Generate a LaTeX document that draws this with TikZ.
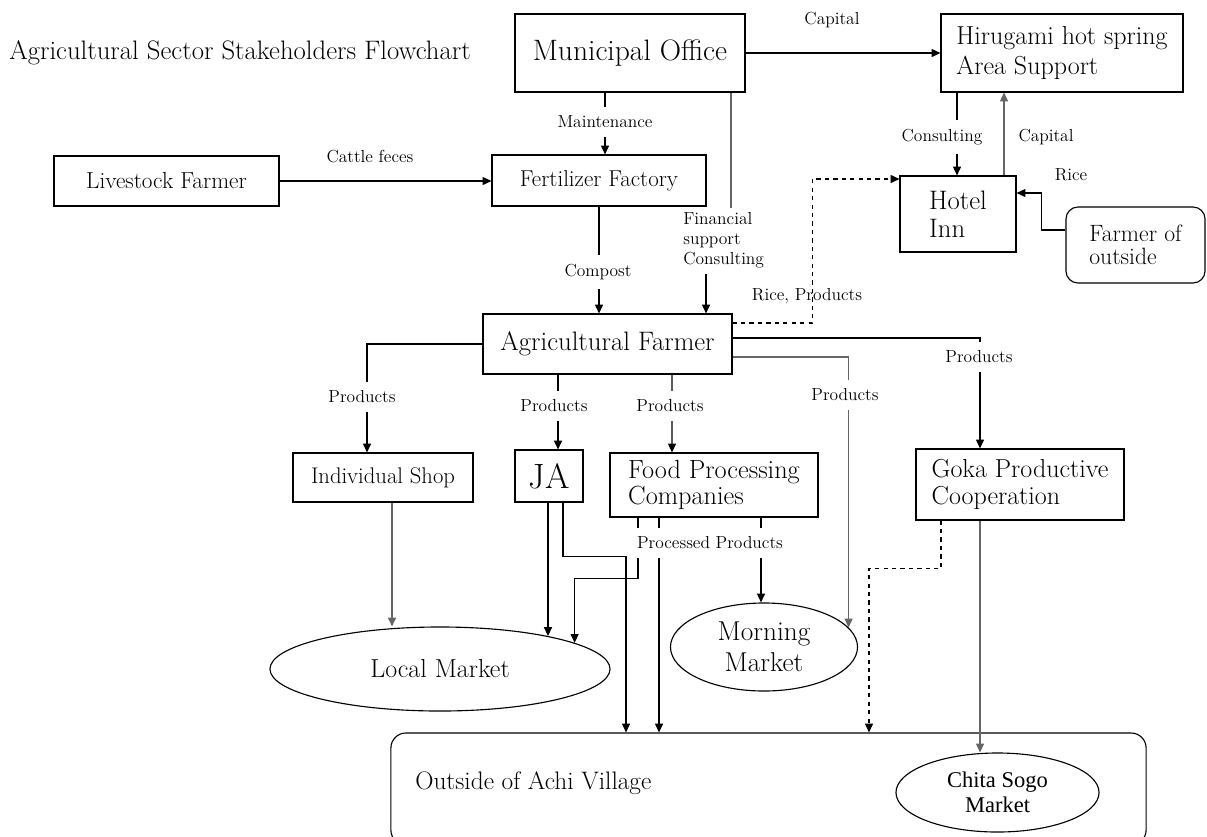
\documentclass[tikz,border=0pt]{standalone}
\usepackage{fontspec}
\newfontfamily\timesfont{Liberation Serif}
\usetikzlibrary{shapes.geometric,arrows.meta,calc}

\tikzset{
  box/.style={draw, line width=0.8pt, inner sep=0pt},
  oval/.style={draw, ellipse, line width=0.8pt, inner sep=0pt},
  lbl/.style={fill=white, inner xsep=2pt, inner ysep=0.22cm, font=\fontsize{12.4}{14.5}\selectfont},
  tag/.style={inner sep=0pt, font=\fontsize{12.4}{14.5}\selectfont},
  con/.style={line width=0.8pt},
  arr/.style={con, -{Triangle[length=2.2mm,width=2mm]}},
  faint/.style={draw=black!60},
}

\begin{document}
\begin{tikzpicture}[x=0.025cm,y=-0.025cm]
        \useasboundingbox (0,0) rectangle (1207,836);

        \node[anchor=west, inner sep=0pt, font=\fontsize{19}{23}\selectfont] (title) at (9,53) {Agricultural Sector Stakeholders Flowchart};

        % boxes
        \node[box, minimum width=5.75cm, minimum height=1.95cm, font=\fontsize{21}{25}\selectfont] (muni) at (630,53) {Municipal Office};
        \node[box, minimum width=6.05cm, minimum height=1.95cm, align=left, font=\fontsize{18.5}{21.5}\selectfont] (hiru) at (1062,53) {Hirugami hot spring\\Area Support};
        \node[box, minimum width=5.625cm, minimum height=1.25cm, font=\fontsize{16.5}{19}\selectfont] (live) at (166.5,181) {Livestock Farmer};
        \node[box, minimum width=5.35cm, minimum height=1.275cm, font=\fontsize{16.3}{19}\selectfont] (fert) at (599,180.5) {Fertilizer Factory};
        \node[box, minimum width=2.9cm, minimum height=1.9cm, align=left, font=\fontsize{19}{20}\selectfont] (hotel) at (958,214) {Hotel\\Inn};
        \node[box, rounded corners=0.3cm, minimum width=3.475cm, minimum height=1.9cm, align=left, font=\fontsize{16.8}{16.5}\selectfont] (fout) at (1135.5,245) {Farmer of\\outside};
        \node[box, minimum width=6.225cm, minimum height=1.5cm, font=\fontsize{19}{22}\selectfont] (agri) at (607.5,344) {Agricultural Farmer};
        \node[box, minimum width=4.5cm, minimum height=1.225cm, font=\fontsize{16.1}{19}\selectfont] (shop) at (383,477.5) {Individual Shop};
        \node[box, minimum width=1.7cm, minimum height=1.3cm, font=\fontsize{25}{28}\selectfont] (ja) at (549,476) {JA};
        \node[box, minimum width=5.2cm, minimum height=1.6cm, align=left, font=\fontsize{18.7}{19}\selectfont] (food) at (714,485) {Food Processing\\Companies};
        \node[box, minimum width=5.2cm, minimum height=1.775cm, align=left, font=\fontsize{18.5}{19}\selectfont] (goka) at (1020,484.5) {Goka Productive\\Cooperation};

        % markets
        \node[oval, minimum width=8.5cm, minimum height=2.1cm, font=\fontsize{18.5}{20}\selectfont] (local) at (440,669) {Local Market};
        \node[oval, minimum width=4.675cm, minimum height=2.2cm, align=center, font=\fontsize{19.4}{22}\selectfont] (morning) at (764,647) {Morning\\Market};
        \node[box, rounded corners=0.375cm, minimum width=18.875cm, minimum height=2.8cm] (outside) at (768.5,789) {};
        \node[anchor=west, inner sep=0pt, font=\fontsize{18}{20}\selectfont] (outtxt) at (415,783) {Outside of Achi Village};
        \node[oval, minimum width=5.075cm, minimum height=1.975cm, align=center, font=\timesfont\fontsize{16}{18}\selectfont] (chita) at (997.5,792.5) {Chita Sogo\\Market};

        % connectors
        \draw[arr] (muni.east) -- (hiru.west);
        \draw[arr] ($(muni.south)+(-25,0)$) -- ($(fert.north)+(6,0)$);
        \draw[arr] (live.east) -- (live.east -| fert.west);
        \draw[arr] (fert.south) -- (fert.south |- agri.north);
        \draw[con,faint] ($(muni.south)+(101,0)$) -- ++(0,115);
        \draw[arr] ($(agri.north)+(98.5,-39)$) -- ($(agri.north)+(98.5,0)$);
        \draw[arr] ($(hiru.south)+(-105,0)$) -- ($(hotel.north)+(-1,0)$);
        \draw[arr,faint] ($(hotel.north)+(46,0)$) -- ($(hiru.south)+(-58,0)$);
        \draw[arr] ($(fout.west)+(0,-15)$) -| ($(hotel.east)+(25,-21)$) -- ($(hotel.east)+(0,-21)$);
        \draw[arr,dashed] ($(agri.east)+(0,-21)$) -| ($(hotel.west)+(-87,-35)$) -- ($(hotel.west)+(0,-35)$);

        \draw[arr] (agri.west) -| ($(shop.north)+(-16,0)$);
        \draw[arr] ($(agri.south)+(-49.5,0)$) -- ($(ja.north)+(9,0)$);
        \draw[arr] ($(agri.south)+(64.5,0)$) -- ($(food.north)+(-42,0)$);
        \draw[arr,faint] ($(agri.east)+(0,13)$) -| (morning.13);
        \draw[arr] ($(agri.east)+(0,-6)$) -| ($(goka.north)+(-40,0)$);

        \coordinate (s1) at ($(shop.south)+(9,0)$);
        \coordinate (j1) at ($(ja.south)+(-1,0)$);
        \coordinate (f3) at ($(food.south)+(47,0)$);
        \coordinate (g2) at ($(goka.south)+(-40,0)$);
        \draw[arr,faint] (s1) -- (s1 |- local.north);
        \draw[arr] (j1) -- (j1 |- local.17);
        \draw[arr] ($(ja.south)+(14,0)$) -- ++(0,54) -| ($(outside.north)+(-142.5,0)$);
        \draw[arr] ($(food.south)+(-76,0)$) -- ++(0,61) -| (local.11);
        \draw[arr] ($(food.south)+(-55,0)$) -- ($(outside.north)+(-109.5,0)$);
        \draw[arr] (f3) -- (f3 |- morning.north);
        \draw[arr,dashed] ($(goka.south)+(-79,0)$) -- ++(0,48) -| ($(outside.north)+(100.5,0)$);
        \draw[arr,faint] (g2) -- (g2 |- chita.north);

        % labels
        \node[tag] (lcap1) at (832,20) {Capital};
        \node[lbl] (lmaint) at (605,122) {Maintenance};
        \node[tag] (lcattle) at (370,157) {Cattle feces};
        \node[lbl] (lcomp) at (598,272) {Compost};
        \node[tag, anchor=west, align=left, font=\fontsize{12.4}{14.2}\selectfont] (lfin) at (683,240) {Financial\\support\\Consulting};
        \node[lbl] (lcons) at (942,137) {Consulting};
        \node[tag] (lcap2) at (1046,137) {Capital};
        \node[tag] (lrice) at (1071,175) {Rice};
        \node[tag] (lrp) at (807,296) {Rice, Products};
        \node[lbl] (lp1) at (362,397) {Products};
        \node[lbl] (lp2) at (554,406) {Products};
        \node[lbl] (lp3) at (670,406) {Products};
        \node[lbl] (lp4) at (845,395) {Products};
        \node[lbl] (lp5) at (979,357) {Products};
        \node[lbl] (lproc) at (710,543) {Processed Products};
\end{tikzpicture}
\end{document}
